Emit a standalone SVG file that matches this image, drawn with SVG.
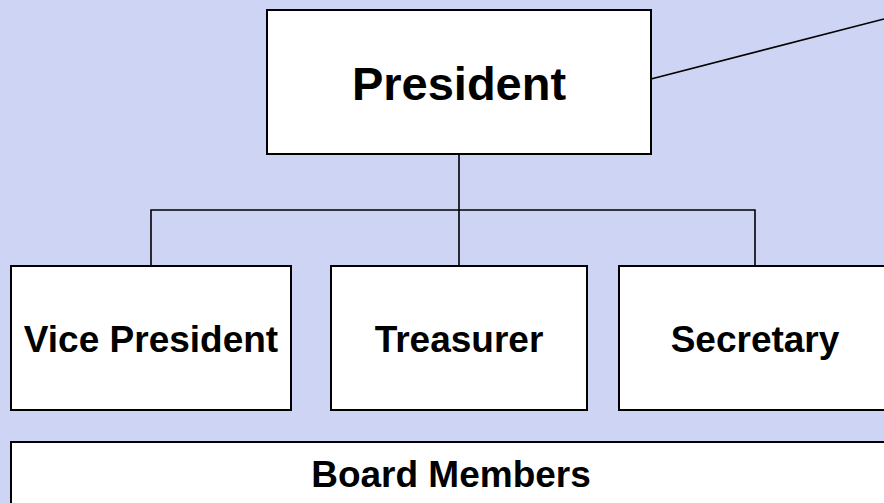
<svg xmlns="http://www.w3.org/2000/svg" width="884" height="503" viewBox="0 0 884 503">
<style>
.box{fill:#fff;stroke:#000;stroke-width:2}
.lbl{font-family:"Liberation Sans",Arial,sans-serif;font-weight:bold;fill:#000;text-anchor:middle}
.con{fill:none;stroke:#000;stroke-width:1.6}
</style>
<rect x="0" y="0" width="884" height="503" fill="#CED4F3"/>
<g id="connectors">
<line class="con" x1="651" y1="79" x2="884" y2="19"/>
<polyline class="con" points="459,154 459,210"/>
<polyline class="con" points="151,266 151,210 755,210 755,266"/>
<line class="con" x1="459" y1="210" x2="459" y2="266"/>
</g>
<g id="president">
<rect class="box" x="267" y="10" width="384" height="144"/>
<text class="lbl" x="459" y="100" font-size="47">President</text>
</g>
<g id="vice-president">
<rect class="box" x="11" y="266" width="280" height="144"/>
<text class="lbl" x="151" y="352" font-size="37">Vice President</text>
</g>
<g id="treasurer">
<rect class="box" x="331" y="266" width="256" height="144"/>
<text class="lbl" x="459" y="352" font-size="37">Treasurer</text>
</g>
<g id="secretary">
<rect class="box" x="619" y="266" width="272" height="144"/>
<text class="lbl" x="755" y="352" font-size="37">Secretary</text>
</g>
<g id="board-members">
<rect class="box" x="11" y="442" width="890" height="80"/>
<text class="lbl" x="451" y="487" font-size="37">Board Members</text>
</g>
</svg>
